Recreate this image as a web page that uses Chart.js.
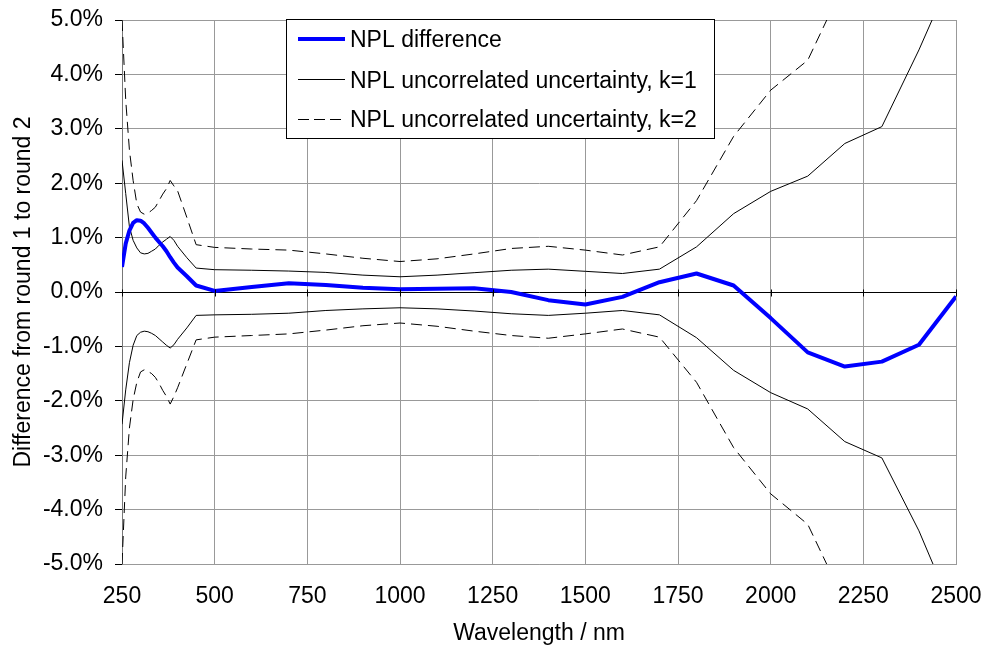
<!DOCTYPE html>
<html>
<head>
<meta charset="utf-8">
<script src="https://cdn.jsdelivr.net/npm/chart.js@4.4.0/dist/chart.umd.min.js"></script>
<style>
html,body{margin:0;padding:0;background:#ffffff;}
#wrap{width:984px;height:650px;position:relative;}
</style>
</head>
<body>
<div id="wrap"><canvas id="c" width="984" height="650"></canvas></div>
<script>
// ---- Data (values in %) ----
const wavelengths = [250,260,270,280,290,300,310,320,330,340,350,360,370,380,390,400,425,450,500,600,700,800,900,1000,1100,1200,1300,1400,1500,1600,1700,1800,1900,2000,2100,2200,2300,2400,2500];
const nplDifference = [0.46,0.89,1.13,1.27,1.32,1.31,1.26,1.18,1.09,1.00,0.92,0.84,0.75,0.64,0.54,0.45,0.29,0.12,0.02,0.09,0.16,0.13,0.08,0.05,0.06,0.07,0.00,-0.15,-0.23,-0.09,0.18,0.34,0.12,-0.48,-1.11,-1.37,-1.28,-0.97,-0.08];
const k1Upper = [2.42,1.81,1.20,0.95,0.81,0.72,0.70,0.71,0.75,0.79,0.86,0.92,0.97,1.02,0.95,0.84,0.63,0.44,0.41,0.40,0.385,0.36,0.31,0.28,0.31,0.355,0.40,0.42,0.38,0.34,0.42,0.83,1.44,1.85,2.13,2.73,3.04,4.45,6.0];
const k1Lower = [-2.43,-1.80,-1.30,-0.98,-0.80,-0.74,-0.72,-0.73,-0.76,-0.80,-0.86,-0.92,-0.98,-1.03,-0.97,-0.87,-0.66,-0.43,-0.42,-0.41,-0.39,-0.34,-0.31,-0.29,-0.31,-0.35,-0.40,-0.43,-0.39,-0.34,-0.42,-0.84,-1.44,-1.85,-2.15,-2.75,-3.05,-4.39,-6.0];
const k2Upper = [5.0,3.53,2.61,2.05,1.62,1.47,1.43,1.45,1.50,1.56,1.68,1.80,1.90,2.05,1.95,1.86,1.37,0.87,0.82,0.79,0.77,0.70,0.62,0.56,0.61,0.70,0.80,0.84,0.77,0.68,0.83,1.68,2.86,3.71,4.26,5.7,6.1,8.9,12.0];
const k2Lower = [-5.0,-3.40,-2.50,-1.98,-1.66,-1.47,-1.43,-1.46,-1.50,-1.57,-1.68,-1.81,-1.92,-2.06,-1.92,-1.76,-1.32,-0.88,-0.83,-0.80,-0.77,-0.70,-0.62,-0.57,-0.63,-0.72,-0.80,-0.85,-0.77,-0.68,-0.83,-1.66,-2.86,-3.71,-4.27,-5.7,-6.1,-8.8,-12.0];
const xTickValues = [250,500,750,1000,1250,1500,1750,2000,2250,2500];
const yTickValues = [-5,-4,-3,-2,-1,0,1,2,3,4,5];
const seriesNames = ['NPL difference','NPL uncorrelated uncertainty, k=1','NPL uncorrelated uncertainty, k=2'];
const xTitle = 'Wavelength / nm';
const yTitle = 'Difference from round 1 to round 2';

const FONT = "'Liberation Sans', Arial, sans-serif";
Chart.defaults.font.family = FONT;
Chart.defaults.font.size = 23;
Chart.defaults.color = '#000';

function pts(arr){ return wavelengths.map((w,i)=>({x:w,y:arr[i]})); }

const DASH = [11,6];

const boxLegend = {
  id:'boxLegend',
  afterDatasetsDraw(chart){
    const {ctx, chartArea} = chart;
    const x0 = chartArea.left + 164, y0 = chartArea.top - 1, w = 428, h = 119;
    ctx.save();
    ctx.fillStyle = '#fff';
    ctx.fillRect(x0, y0, w, h);
    ctx.strokeStyle = '#000';
    ctx.lineWidth = 1;
    ctx.strokeRect(x0 + 0.5, y0 + 0.5, w, h);
    const rows = [19.5, 60, 99.5];
    const styles = [
      {c:'#0000ff', lw:4, dash:[], len:47},
      {c:'#000', lw:1, dash:[], len:47},
      {c:'#000', lw:1, dash:[11,5], len:43}
    ];
    ctx.font = '23px ' + FONT;
    ctx.textBaseline = 'alphabetic';
    ctx.textAlign = 'left';
    rows.forEach((r,i)=>{
      const y = y0 + r;
      const s = styles[i];
      ctx.beginPath();
      ctx.setLineDash(s.dash);
      ctx.strokeStyle = s.c;
      ctx.lineWidth = s.lw;
      ctx.moveTo(x0 + 12, Math.round(y) + (s.lw % 2 ? 0.5 : 0));
      ctx.lineTo(x0 + 12 + s.len, Math.round(y) + (s.lw % 2 ? 0.5 : 0));
      ctx.stroke();
      ctx.setLineDash([]);
      ctx.fillStyle = '#000';
      ctx.fillText(seriesNames[i], x0 + 64, y + 8.5);
    });
    ctx.restore();
  }
};

const zeroTicks = {
  id:'zeroTicks',
  afterDatasetsDraw(chart){
    const {ctx} = chart;
    const xs = chart.scales.x, ys = chart.scales.y;
    const y0 = Math.round(ys.getPixelForValue(0)) + 0.5;
    ctx.save();
    ctx.strokeStyle = '#000';
    ctx.lineWidth = 1;
    xTickValues.forEach(v=>{
      const px = Math.round(xs.getPixelForValue(v)) + 0.5;
      ctx.beginPath();
      ctx.moveTo(px, y0 - 3);
      ctx.lineTo(px, y0 + 4);
      ctx.stroke();
    });
    ctx.restore();
  }
};

new Chart(document.getElementById('c'), {
  type:'line',
  data:{
    datasets:[
      {label:seriesNames[0], data:pts(nplDifference), borderColor:'#0000ff', borderWidth:4, pointRadius:0, tension:0, fill:false},
      {label:seriesNames[1], data:pts(k1Upper), borderColor:'#000', borderWidth:1, pointRadius:0, tension:0, fill:false},
      {label:seriesNames[1]+' (lower)', data:pts(k1Lower), borderColor:'#000', borderWidth:1, pointRadius:0, tension:0, fill:false},
      {label:seriesNames[2], data:pts(k2Upper), borderColor:'#000', borderWidth:1, borderDash:DASH, pointRadius:0, tension:0, fill:false},
      {label:seriesNames[2]+' (lower)', data:pts(k2Lower), borderColor:'#000', borderWidth:1, borderDash:DASH, pointRadius:0, tension:0, fill:false}
    ]
  },
  options:{
    responsive:false,
    animation:false,
    devicePixelRatio:1,
    layout:{padding:{left:0, right:28, top:20, bottom:0}},
    plugins:{legend:{display:false}, tooltip:{enabled:false}},
    elements:{line:{borderCapStyle:'butt', borderJoinStyle:'round'}},
    scales:{
      x:{
        type:'linear', min:250, max:2500,
        afterBuildTicks(scale){ scale.ticks = xTickValues.map(v=>({value:v})); },
        afterFit(scale){ scale.height = 86; scale.paddingLeft = 0; scale.paddingRight = 0; scale.paddingTop = 0; scale.paddingBottom = 0; },
        ticks:{padding:19, maxRotation:0, autoSkip:false, font:{size:23}, callback:(v)=>String(v)},
        grid:{color:'#999', lineWidth:1, drawTicks:false},
        border:{display:true, color:'#999', width:1},
        title:{display:true, text:xTitle, font:{size:23}, padding:{top:0, bottom:3}}
      },
      y:{
        type:'linear', min:-5, max:5,
        afterBuildTicks(scale){ scale.ticks = yTickValues.map(v=>({value:v})); },
        afterFit(scale){ scale.width = 122; scale.paddingLeft = 0; scale.paddingRight = 0; scale.paddingTop = 0; scale.paddingBottom = 0; },
        ticks:{padding:12, font:{size:23}, callback:(v)=>Number(v).toFixed(1)+'%'},
        grid:{color:(c)=> (c.tick && c.tick.value===0) ? '#000' : '#999', lineWidth:1, drawTicks:true, tickLength:7, tickColor:'#000'},
        border:{display:true, color:'#777', width:1},
        title:{display:true, text:yTitle, font:{size:23}, padding:{top:10, bottom:0}}
      }
    }
  },
  plugins:[boxLegend, zeroTicks]
});
</script>
</body>
</html>
